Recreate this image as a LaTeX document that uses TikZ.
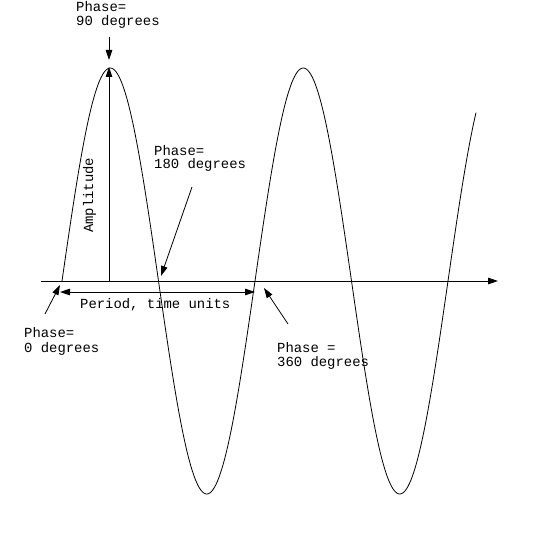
\documentclass[tikz,border=0pt]{standalone}
\usepackage{fontspec}
\newfontfamily\cour{Liberation Mono}
\usetikzlibrary{arrows.meta}
\begin{document}
\begin{tikzpicture}[x=1bp,y=-1bp,
  lbl/.style={font=\cour\fontsize{13.9bp}{14bp}\selectfont, inner sep=0pt, anchor=base west},
  arr/.style={-{Triangle[length=10bp,width=6.5bp]}, line width=0.8bp},
  darr/.style={{Triangle[length=10bp,width=6.5bp]}-{Triangle[length=10bp,width=6.5bp]}, line width=0.8bp},
  wave/.style={line width=0.8bp}]
\useasboundingbox (0,0) rectangle (549,544);
% coordinates
\coordinate (axL) at (41,281);
\coordinate (axR) at (498,281);
\coordinate (ampB) at (109,281);
\coordinate (peak) at (109,67);
\coordinate (t90) at (109,37);
\coordinate (h90) at (109,60);
\coordinate (t180) at (192,187);
\coordinate (h180) at (161,276);
\coordinate (perL) at (60,292);
\coordinate (perR) at (255,292);
\coordinate (t0) at (45,314);
\coordinate (h0) at (60,285);
\coordinate (t360) at (288,324);
\coordinate (h360) at (264,288);
% axis
\draw[arr] (axL) -- (axR);
% wave
\draw[wave] plot[domain=0:414, samples=300] ({62+\x}, {281-213*sin(\x/193*360)});
% amplitude
\draw[arr] (ampB) -- (peak);
\node[lbl, rotate=90] (amp) at (93,233) {Amplitude};
% labels
\node[lbl] (p90a) at (76,12) {Phase=};
\node[lbl] (p90b) at (76,26) {90 degrees};
\node[lbl] (p180a) at (154,156) {Phase=};
\node[lbl] (p180b) at (154,169) {180 degrees};
\node[lbl] (per) at (80,308) {Period, time units};
\node[lbl] (p0a) at (24,337) {Phase=};
\node[lbl] (p0b) at (24,352) {0 degrees};
\node[lbl] (p360a) at (277,352) {Phase =};
\node[lbl] (p360b) at (277,366) {360 degrees};
% arrows
\draw[arr] (t90) -- (h90);
\draw[arr] (t180) -- (h180);
\draw[darr] (perL) -- (perR);
\draw[arr] (t0) -- (h0);
\draw[arr] (t360) -- (h360);
\end{tikzpicture}
\end{document}
